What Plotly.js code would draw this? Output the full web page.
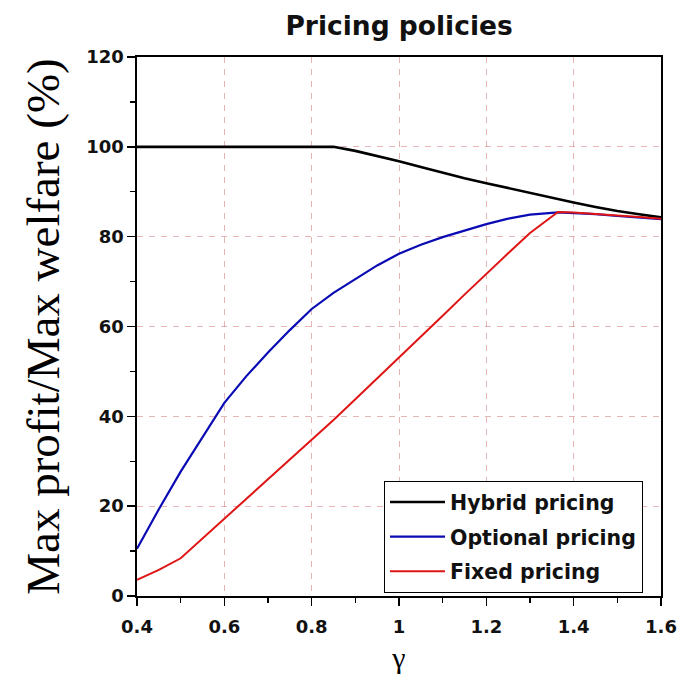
<!DOCTYPE html>
<html>
<head>
<meta charset="utf-8">
<script src="https://cdn.plot.ly/plotly-3.0.1.min.js"></script>
<style>
  html, body { margin: 0; padding: 0; background: #ffffff; }
  #chart { width: 681px; height: 674px; }
</style>
</head>
<body>
<div id="chart"></div>
<script>
// gamma values along the horizontal axis
const gamma = [0.40, 0.45, 0.50, 0.55, 0.60, 0.65, 0.70, 0.75, 0.80, 0.85,
               0.90, 0.95, 1.00, 1.05, 1.10, 1.15, 1.20, 1.25, 1.30, 1.364,
               1.40, 1.45, 1.50, 1.55, 1.60];

// Max profit / max welfare (%) for each pricing policy
const hybridPricing   = [100, 100, 100, 100, 100, 100, 100, 100, 100, 100,
                         99.1, 98.0, 96.8, 95.5, 94.2, 93.0, 91.9, 90.8, 89.8, 88.4,
                         87.6, 86.6, 85.7, 85.0, 84.3];
const optionalPricing = [10.5, 19.3, 27.7, 35.5, 43.0, 48.9, 54.2, 59.2, 63.9, 67.5,
                         70.6, 73.6, 76.2, 78.2, 79.9, 81.4, 82.8, 84.0, 84.9, 85.4,
                         85.3, 85.0, 84.6, 84.3, 83.9];
const fixedPricing    = [3.6, 5.8, 8.4, 12.8, 17.2, 21.5, 25.8, 30.2, 34.7, 39.2,
                         43.8, 48.4, 53.0, 57.7, 62.4, 67.1, 71.8, 76.3, 80.8, 85.5,
                         85.4, 85.1, 84.8, 84.4, 84.0];

const seriesNames  = ['Hybrid pricing', 'Optional pricing', 'Fixed pricing'];
const seriesValues = [hybridPricing, optionalPricing, fixedPricing];
const seriesColors = ['#000000', '#0b0bb4', '#e01515'];
const seriesWidths = [2.6, 2.2, 2.0];

const traces = seriesNames.map((name, i) => ({
  type: 'scatter',
  mode: 'lines',
  name: name,
  x: gamma,
  y: seriesValues[i],
  legendgroup: 'g' + i,
  line: { color: seriesColors[i], width: seriesWidths[i] }
}));

const tickFont = { family: 'DejaVu Sans', size: 18, weight: 'bold', color: '#111111' };
const axisStyle = {
  showgrid: true,
  gridcolor: 'rgba(214,120,120,0.55)',
  gridwidth: 1,
  griddash: '6px,6px',
  zeroline: false,
  showline: true,
  mirror: true,
  linecolor: '#000000',
  linewidth: 1.6,
  ticks: 'outside',
  ticklen: 8,
  tickwidth: 1.4,
  tickcolor: '#000000',
  tickfont: tickFont
};

const layout = {
  width: 681,
  height: 674,
  margin: { l: 137, r: 20, t: 57, b: 78 },
  paper_bgcolor: '#ffffff',
  plot_bgcolor: '#ffffff',
  title: {
    text: 'Pricing policies',
    font: { family: 'DejaVu Sans', size: 26.5, weight: 'bold', color: '#111111' },
    x: 0.586, xanchor: 'center',
    y: 0.962, yanchor: 'middle'
  },
  xaxis: Object.assign({}, axisStyle, {
    range: [0.4, 1.6],
    tickmode: 'array',
    tickvals: [0.4, 0.6, 0.8, 1.0, 1.2, 1.4, 1.6],
    ticktext: ['0.4', '0.6', '0.8', '1', '1.2', '1.4', '1.6'],
    ticklabelstandoff: 6,
    minor: { dtick: 0.1, tick0: 0.4, ticks: 'outside', ticklen: 5, tickwidth: 1.2, tickcolor: '#000000', showgrid: false },
    title: { text: 'γ', font: { family: 'Liberation Serif', size: 30, color: '#000000' }, standoff: 12 }
  }),
  yaxis: Object.assign({}, axisStyle, {
    range: [0, 120],
    tickmode: 'linear',
    tick0: 0,
    dtick: 20,
    minor: { dtick: 10, tick0: 0, ticks: 'outside', ticklen: 5, tickwidth: 1.2, tickcolor: '#000000', showgrid: false },
    title: { text: 'Max profit/Max welfare (%)', font: { family: 'Liberation Serif', size: 47, color: '#000000' }, standoff: 12 }
  }),
  showlegend: true,
  legend: {
    x: 0.471, xanchor: 'left',
    y: 0.2134, yanchor: 'top',
    bgcolor: '#ffffff',
    bordercolor: '#000000',
    borderwidth: 1.2,
    traceorder: 'grouped',
    tracegroupgap: 5,
    itemwidth: 55,
    font: { family: 'DejaVu Sans', size: 20.5, weight: 'bold', color: '#111111' }
  },
  hovermode: false
};

Plotly.newPlot('chart', traces, layout, { displayModeBar: false, staticPlot: true });
</script>
</body>
</html>
